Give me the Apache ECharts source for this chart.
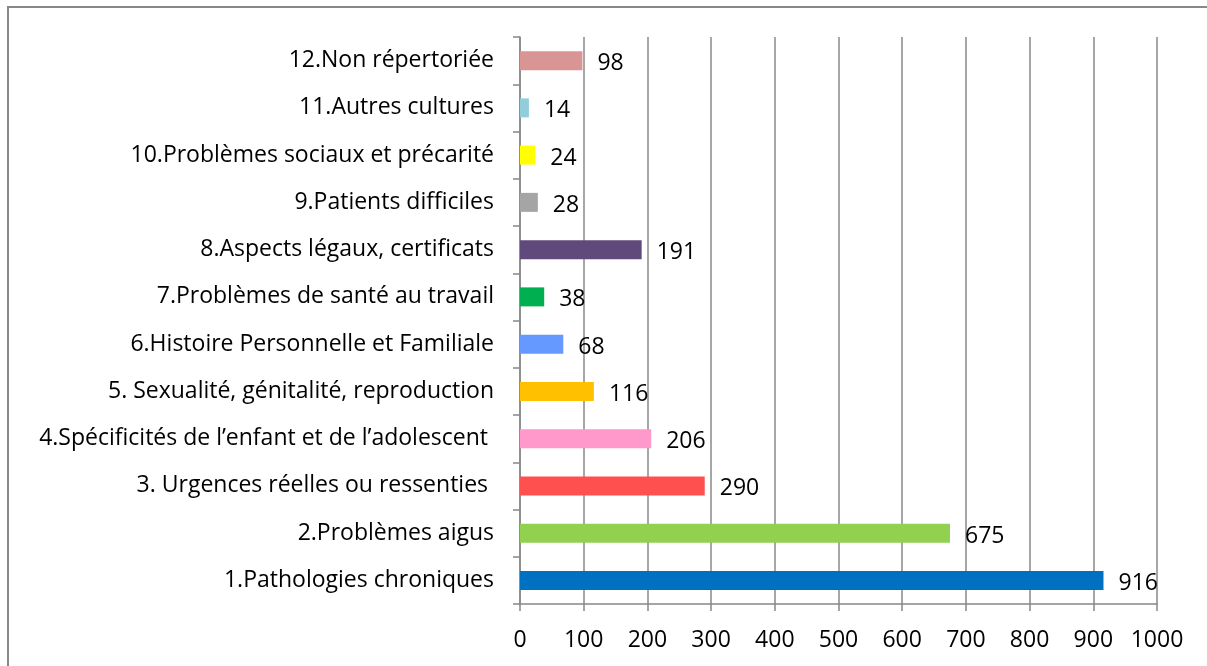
<!DOCTYPE html>
<html><head><meta charset="utf-8">
<script src="https://cdn.jsdelivr.net/npm/echarts@6/dist/echarts.min.js"></script>
<style>html,body{margin:0;padding:0;background:#fff}#c{width:1207px;height:666px}</style>
</head><body><div id="c"></div>
<script>
const categories = [
  "1.Pathologies chroniques",
  "2.Problèmes aigus",
  "3. Urgences réelles ou ressenties ",
  "4.Spécificités de l’enfant et de l’adolescent ",
  "5. Sexualité, génitalité, reproduction",
  "6.Histoire Personnelle et Familiale",
  "7.Problèmes de santé au travail",
  "8.Aspects légaux, certificats",
  "9.Patients difficiles",
  "10.Problèmes sociaux et précarité",
  "11.Autres cultures",
  "12.Non répertoriée"
];
const values = [916, 675, 290, 206, 116, 68, 38, 191, 28, 24, 14, 98];
const colors = ["#0070C0","#92D050","#FF5050","#FF99CC","#FFC000","#6699FF","#00B050","#604A7B","#A5A5A5","#FFFF00","#92CDDC","#D99594"];
const xTicks = [0,100,200,300,400,500,600,700,800,900,1000];

const font = "Open Sans";
const chart = echarts.init(document.getElementById('c'));
chart.setOption({
  animation: false,
  graphic: [{type:'rect', shape:{x:8,y:7,width:1210,height:670}, style:{fill:'none', stroke:'#888', lineWidth:2}}],
  grid: {left:520, right:50, top:37, bottom:62},
  xAxis: {
    type:'value', min:xTicks[0], max:xTicks[xTicks.length-1], interval:100,
    axisLine:{show:true, lineStyle:{color:'#888', width:1.5}},
    axisTick:{show:true, length:7, lineStyle:{color:'#888', width:1.5}},
    splitLine:{show:true, lineStyle:{color:'#888', width:1.5}},
    axisLabel:{color:'#000', fontFamily:font, fontSize:23, margin:25, formatter:v=>String(v)}
  },
  yAxis: {
    type:'category', data:categories,
    axisLine:{show:true, lineStyle:{color:'#888', width:1.5}},
    axisTick:{show:true, length:7, lineStyle:{color:'#888', width:1.5}},
    axisLabel:{color:'#000', fontFamily:font, fontSize:23, margin:26}
  },
  series: [{
    type:'bar', barWidth:19,
    data: values.map((v,i)=>({value:v, itemStyle:{color:colors[i]}})),
    label:{show:true, position:'right', distance:15, offset:[0,3], color:'#000', fontFamily:font, fontSize:23}
  }]
});
</script></body></html>
